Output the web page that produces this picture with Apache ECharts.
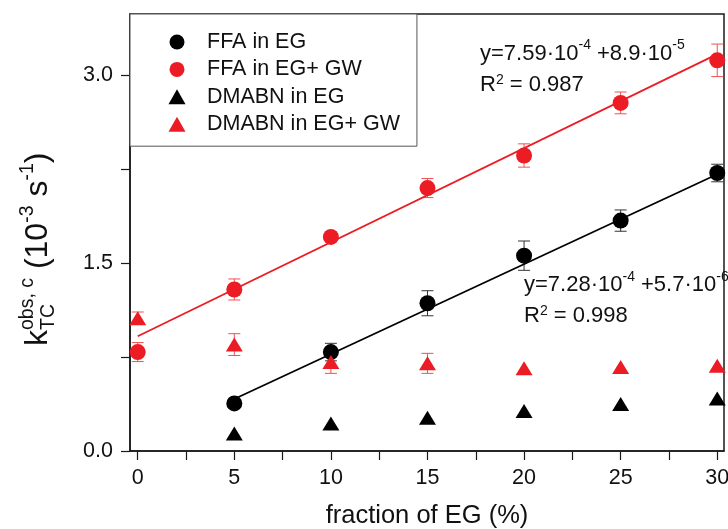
<!DOCTYPE html>
<html>
<head>
<meta charset="utf-8">
<script src="https://cdn.jsdelivr.net/npm/echarts@6/dist/echarts.min.js"></script>
<style>
html,body{margin:0;padding:0;background:#fff;}
#chart{width:728px;height:529px;}
</style>
</head>
<body>
<div id="chart"></div>
<script>
// ---------- data ----------
const xTickLabels = [0, 5, 10, 15, 20, 25, 30];
const xMinorTicks = [0, 2.5, 5, 7.5, 10, 12.5, 15, 17.5, 20, 22.5, 25, 27.5, 30];
const yTickLabels = [0, 1.5, 3.0];
const yMinorTicks = [0, 0.75, 1.5, 2.25, 3.0];

const ffaEG_x   = [5, 10, 15, 20, 25, 30];
const ffaEG_y   = [0.38, 0.79, 1.18, 1.56, 1.84, 2.22];
const ffaEG_err = [0, 0.07, 0.10, 0.117, 0.085, 0.07];

const ffaGW_x   = [0, 5, 10, 15, 20, 25, 30];
const ffaGW_y   = [0.79, 1.29, 1.71, 2.10, 2.36, 2.78, 3.12];
const ffaGW_err = [0.076, 0.084, 0.02, 0.076, 0.093, 0.087, 0.13];

const dmaEG_x   = [5, 10, 15, 20, 25, 30];
const dmaEG_y   = [0.14, 0.22, 0.265, 0.32, 0.375, 0.42];

const dmaGW_x   = [0, 5, 10, 15, 20, 25, 30];
const dmaGW_y   = [1.06, 0.85, 0.71, 0.70, 0.66, 0.67, 0.68];
const dmaGW_err = [0.05, 0.087, 0.09, 0.08, 0, 0, 0];

const fitGW_x = [0, 30];
const fitGW_y = [0.916, 3.17];
const fitEG_x = [5, 30];
const fitEG_y = [0.415, 2.21];

const seriesNames = ['FFA in EG', 'FFA in EG+ GW', 'DMABN in EG', 'DMABN in EG+ GW'];

// ---------- helpers ----------
const RED = '#ec1c24';
const BLACK = '#000000';
const FONT = '"Liberation Sans", Arial, sans-serif';
const mctx = document.createElement('canvas').getContext('2d');
function measure(t, s) { mctx.font = s + 'px ' + FONT; return mctx.measureText(t).width; }
function pairs(xs, ys) { return xs.map((x, i) => [x, ys[i]]); }
function errData(xs, ys, es) {
  const out = [];
  xs.forEach((x, i) => { if (es[i] > 0) out.push([x, ys[i] - es[i], ys[i] + es[i]]); });
  return out;
}
function runText(pieces, ox, baseY, color) {
  let x = ox; const out = [];
  pieces.forEach(p => {
    out.push({
      type: 'text', x: x, y: baseY + (p.dy || 0) - 0.3465 * p.s,
      style: { text: p.t, font: p.s + 'px ' + FONT, fill: color || '#111', align: 'left', verticalAlign: 'middle' }
    });
    if (!p.noAdv) x += measure(p.t, p.s);
  });
  return out;
}
function errSeries(data, color) {
  return {
    type: 'custom', data: data, z: 1, silent: true,
    encode: { x: 0, y: [1, 2] },
    renderItem: function (params, api) {
      const x = api.value(0);
      const p1 = api.coord([x, api.value(1)]);
      const p2 = api.coord([x, api.value(2)]);
      const hw = 6;
      const st = { stroke: color, lineWidth: 1 };
      return {
        type: 'group', children: [
          { type: 'line', shape: { x1: p1[0], y1: p1[1], x2: p2[0], y2: p2[1] }, style: st },
          { type: 'line', shape: { x1: p1[0] - hw, y1: p1[1], x2: p1[0] + hw, y2: p1[1] }, style: st },
          { type: 'line', shape: { x1: p2[0] - hw, y1: p2[1], x2: p2[0] + hw, y2: p2[1] }, style: st }
        ]
      };
    }
  };
}

// ---------- annotations ----------
const SUP = 14, MAIN = 22;
const anno1 = runText([
  { t: 'y=7.59\u00b710', s: MAIN }, { t: '-4', s: SUP, dy: -11.5 },
  { t: ' +8.9\u00b710', s: MAIN }, { t: '-5', s: SUP, dy: -11.5 }
], 480, 61.7).concat(runText([
  { t: 'R', s: MAIN }, { t: '2', s: SUP, dy: -7.5 }, { t: ' = 0.987', s: MAIN }
], 480, 92.7));
const anno2 = runText([
  { t: 'y=7.28\u00b710', s: MAIN }, { t: '-4', s: SUP, dy: -11.5 },
  { t: ' +5.7\u00b710', s: MAIN }, { t: '-6', s: SUP, dy: -11.5 }
], 524, 293).concat(runText([
  { t: 'R', s: MAIN }, { t: '2', s: SUP, dy: -7.5 }, { t: ' = 0.998', s: MAIN }
], 524, 323.5));

// y-axis title (rotated)
const TM = 32, TS = 19.5;
const yTitle = {
  type: 'group', x: 49, y: 346, rotation: Math.PI / 2,
  children: runText([
    { t: 'k', s: TM },
    { t: 'TC', s: TS, dy: 6.5, noAdv: true },
    { t: 'obs, c', s: TS, dy: -15 },
    { t: ' (10', s: TM },
    { t: '-3', s: TS, dy: -15 },
    { t: ' s', s: TM },
    { t: '-1', s: TS, dy: -15 },
    { t: ')', s: TM }
  ], 0, 0)
};

// ---------- chart ----------
const chart = echarts.init(document.getElementById('chart'), null, { renderer: 'canvas' });
chart.setOption({
  animation: false,
  backgroundColor: '#ffffff',
  textStyle: { fontFamily: FONT },
  grid: {
    left: 130, right: 4, top: 14, bottom: 78,
    outerBoundsMode: 'none', containLabel: false,
    show: true, borderColor: '#1a1a1a', borderWidth: 1.5, backgroundColor: 'transparent'
  },
  xAxis: {
    type: 'value', min: -0.4, max: 30.35,
    splitLine: { show: false },
    axisLine: { show: true, onZero: false, lineStyle: { color: '#1a1a1a', width: 1.5 } },
    axisTick: { show: true, length: 9, customValues: xMinorTicks, lineStyle: { color: '#1a1a1a', width: 1.2 } },
    axisLabel: { customValues: xTickLabels, margin: 16, fontSize: 21.5, color: '#111', fontFamily: FONT },
    name: 'fraction of EG (%)', nameLocation: 'middle', nameGap: 52,
    nameTextStyle: { fontSize: 25.5, color: '#111', fontFamily: FONT }
  },
  yAxis: {
    type: 'value', min: 0, max: 3.49,
    splitLine: { show: false },
    axisLine: { show: true, onZero: false, lineStyle: { color: '#1a1a1a', width: 1.5 } },
    axisTick: { show: true, length: 9, customValues: yMinorTicks, lineStyle: { color: '#1a1a1a', width: 1.2 } },
    axisLabel: { customValues: yTickLabels, margin: 17, fontSize: 21.5, color: '#111', fontFamily: FONT,
      formatter: v => Number(v).toFixed(1) }
  },
  legend: {
    orient: 'vertical', left: 130, top: 14,
    padding: [17, 17, 11, 38.5], itemGap: 5.4, itemWidth: 17, itemHeight: 15,
    backgroundColor: '#ffffff', borderColor: '#555555', borderWidth: 1, borderRadius: 0,
    textStyle: { fontSize: 21.5, color: '#111', lineHeight: 21, fontFamily: FONT, padding: [0, 0, 0, 16.5] },
    data: seriesNames
  },
  graphic: [yTitle].concat(anno1, anno2),
  series: [
    { type: 'line', data: pairs(fitGW_x, fitGW_y), showSymbol: false, symbol: 'none', z: 1, silent: true,
      lineStyle: { color: RED, width: 1.8 } },
    { type: 'line', data: pairs(fitEG_x, fitEG_y), showSymbol: false, symbol: 'none', z: 1, silent: true,
      lineStyle: { color: BLACK, width: 1.8 } },
    errSeries(errData(ffaEG_x, ffaEG_y, ffaEG_err), '#333333'),
    errSeries(errData(ffaGW_x, ffaGW_y, ffaGW_err), '#f05050'),
    errSeries(errData(dmaGW_x, dmaGW_y, dmaGW_err), '#f05050'),
    { name: seriesNames[0], type: 'scatter', data: pairs(ffaEG_x, ffaEG_y), symbol: 'circle', symbolSize: 16, z: 2,
      itemStyle: { color: BLACK, opacity: 1 } },
    { name: seriesNames[1], type: 'scatter', data: pairs(ffaGW_x, ffaGW_y), symbol: 'circle', symbolSize: 16, z: 2,
      itemStyle: { color: RED, opacity: 1 } },
    { name: seriesNames[2], type: 'scatter', data: pairs(dmaEG_x, dmaEG_y), symbol: 'triangle', symbolSize: [17, 14], z: 2,
      itemStyle: { color: BLACK, opacity: 1 } },
    { name: seriesNames[3], type: 'scatter', data: pairs(dmaGW_x, dmaGW_y), symbol: 'triangle', symbolSize: [17, 14], z: 2,
      itemStyle: { color: RED, opacity: 1 } }
  ]
});
</script>
</body>
</html>
